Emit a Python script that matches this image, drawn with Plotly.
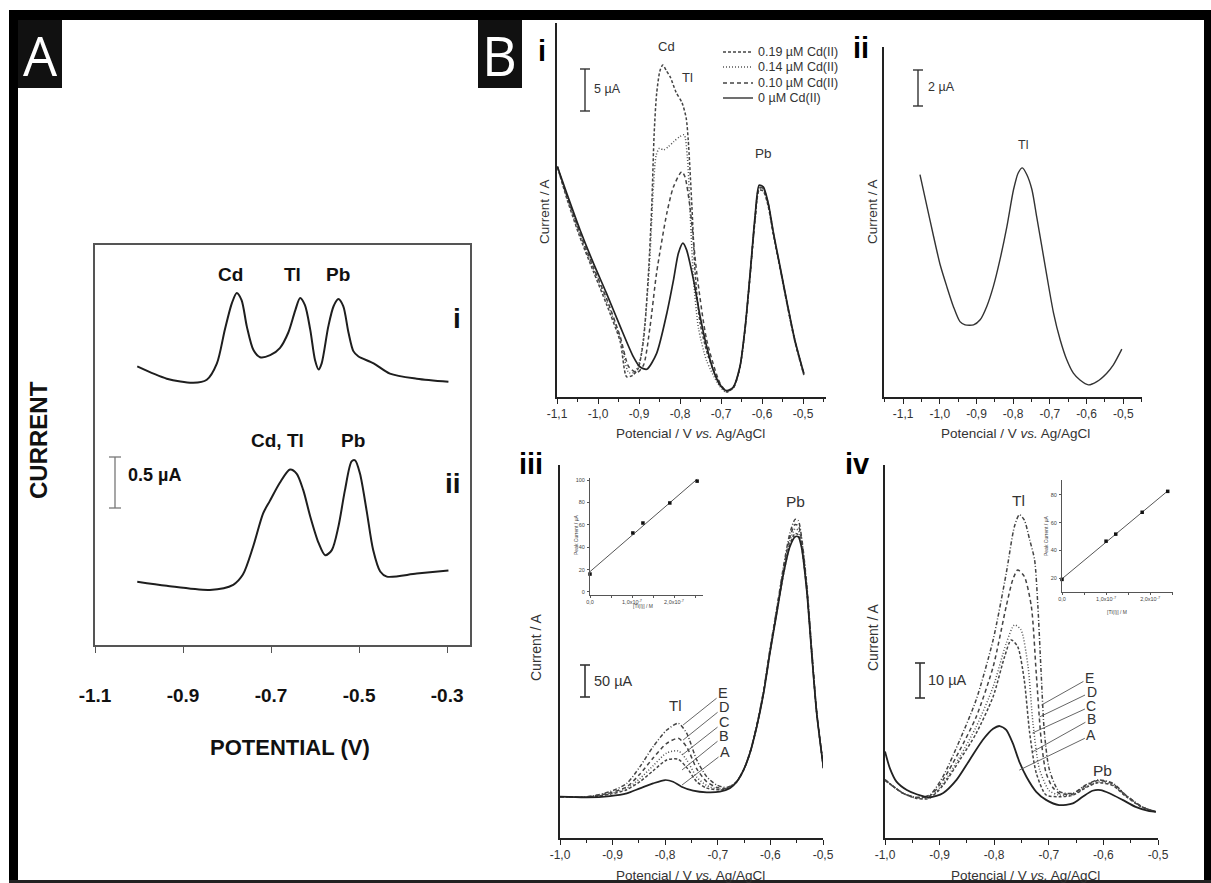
import numpy as np
import plotly.graph_objects as go

W, H = 1211, 883
SANS = "Liberation Sans, Arial, sans-serif"

# ---------------- Panel A (µA, offset scale) ----------------
a_pot_i = [-1.004,-0.937,-0.877,-0.846,-0.823,-0.805,-0.789,-0.778,-0.767,-0.755,-0.740,-0.725,-0.702,-0.680,-0.661,-0.645,-0.634,-0.623,-0.611,-0.600,-0.592,-0.585,-0.570,-0.558,-0.547,-0.536,-0.524,-0.513,-0.502,-0.467,-0.430,-0.369,-0.297]
a_cur_i = [2.73,2.61,2.57,2.60,2.76,3.09,3.35,3.45,3.38,3.12,2.89,2.82,2.84,2.91,3.06,3.28,3.40,3.33,3.09,2.79,2.70,2.76,3.12,3.32,3.39,3.32,3.06,2.88,2.83,2.76,2.66,2.61,2.58]
a_pot_ii = [-1.004,-0.937,-0.839,-0.786,-0.764,-0.741,-0.718,-0.703,-0.680,-0.657,-0.642,-0.627,-0.611,-0.592,-0.577,-0.562,-0.547,-0.532,-0.517,-0.509,-0.498,-0.483,-0.468,-0.452,-0.437,-0.369,-0.297]
a_cur_ii = [0.62,0.58,0.54,0.59,0.69,0.96,1.29,1.41,1.59,1.72,1.68,1.52,1.26,1.00,0.88,0.93,1.16,1.52,1.80,1.81,1.68,1.32,0.93,0.72,0.67,0.70,0.73]
a_ticks = [-1.1, -0.9, -0.7, -0.5, -0.3]
a_ticklabels = ["-1.1", "-0.9", "-0.7", "-0.5", "-0.3"]

# ---------------- Panel B-i (µA) ----------------
bi_pot_0 = [-1.099,-1.076,-1.044,-1.011,-0.979,-0.946,-0.914,-0.898,-0.881,-0.857,-0.832,-0.816,-0.804,-0.793,-0.784,-0.767,-0.751,-0.735,-0.719,-0.702,-0.686,-0.670,-0.654,-0.641,-0.629,-0.617,-0.607,-0.597,-0.585,-0.572,-0.556,-0.540,-0.520,-0.498]
bi_cur_0 = [27.4,24.2,19.9,15.9,12.3,8.4,4.8,3.6,3.3,5.2,10.0,13.9,17.1,18.3,17.5,13.9,9.6,6.0,3.2,1.4,0.75,1.2,3.6,8.4,14.7,21.5,25.2,25.0,23.1,19.5,15.5,11.5,6.8,2.8]
bi_pot_019 = [-1.099,-1.076,-1.044,-1.011,-0.979,-0.946,-0.930,-0.915,-0.902,-0.889,-0.877,-0.869,-0.863,-0.857,-0.849,-0.842,-0.833,-0.824,-0.810,-0.795,-0.785,-0.780,-0.771,-0.763,-0.751,-0.731,-0.702,-0.686,-0.670,-0.654,-0.641,-0.629,-0.617,-0.607,-0.597,-0.585,-0.572,-0.556,-0.540,-0.520,-0.498]
bi_cur_019 = [27.4,23.6,19.0,14.9,11.0,6.6,2.4,2.6,3.4,6.8,14.7,22.7,31.4,36.1,38.8,39.5,38.8,38.1,36.3,35.0,33.2,30.6,22.7,14.7,8.8,4.8,1.5,0.6,1.1,3.5,8.2,14.5,21.0,24.6,24.5,22.7,19.2,15.3,11.3,6.6,2.6]
bi_pot_014 = [-1.099,-1.076,-1.044,-1.011,-0.979,-0.946,-0.925,-0.910,-0.897,-0.884,-0.873,-0.866,-0.858,-0.850,-0.840,-0.828,-0.815,-0.800,-0.790,-0.782,-0.775,-0.767,-0.755,-0.735,-0.705,-0.688,-0.670,-0.654,-0.641,-0.629,-0.617,-0.607,-0.597,-0.585,-0.572,-0.556,-0.540,-0.520,-0.498]
bi_cur_014 = [27.4,23.8,19.3,15.2,11.4,7.0,2.9,3.0,4.5,9.5,17.0,24.0,28.8,29.6,29.4,29.8,30.4,31.0,31.2,28.5,21.5,14.0,8.2,4.3,1.4,0.6,1.1,3.5,8.3,14.6,21.2,24.8,24.7,22.9,19.3,15.4,11.4,6.7,2.7]
bi_pot_010 = [-1.099,-1.076,-1.044,-1.011,-0.979,-0.946,-0.925,-0.905,-0.889,-0.873,-0.857,-0.832,-0.816,-0.796,-0.788,-0.776,-0.759,-0.735,-0.702,-0.686,-0.670,-0.654,-0.641,-0.629,-0.617,-0.607,-0.597,-0.585,-0.572,-0.556,-0.540,-0.520,-0.498]
bi_cur_010 = [27.4,23.9,19.5,15.4,11.7,7.2,3.6,2.9,3.8,8.4,14.8,21.9,25.0,26.8,26.2,22.7,14.7,6.8,1.6,0.7,1.1,3.5,8.3,14.6,21.3,24.9,24.8,23.0,19.4,15.4,11.4,6.7,2.7]

# ---------------- Panel B-ii (µA) ----------------
bii_pot = [-1.054,-1.035,-1.017,-0.999,-0.981,-0.963,-0.945,-0.931,-0.908,-0.890,-0.872,-0.854,-0.836,-0.817,-0.799,-0.786,-0.775,-0.763,-0.749,-0.736,-0.722,-0.708,-0.690,-0.672,-0.654,-0.636,-0.618,-0.595,-0.572,-0.545,-0.527,-0.504]
bii_cur = [12.33,10.57,8.91,7.33,6.13,5.02,4.18,4.0,4.0,4.28,5.02,6.13,7.61,9.46,11.5,12.43,12.7,12.33,11.5,10.0,8.35,6.68,4.65,3.17,2.06,1.32,0.94,0.67,0.85,1.32,1.78,2.65]

# ---------------- Panel B-iii (µA) ----------------
biii_pot_A = [-1.000,-0.949,-0.905,-0.873,-0.848,-0.823,-0.800,-0.785,-0.769,-0.747,-0.721,-0.696,-0.677,-0.664,-0.651,-0.639,-0.626,-0.613,-0.601,-0.588,-0.575,-0.563,-0.553,-0.547,-0.541,-0.531,-0.521,-0.512,-0.499]
biii_cur_A = [64.6,63.5,65.6,69.8,77.6,85.4,90.6,88.0,80.2,74.0,71.4,72.4,77.6,88.0,106.3,132.3,173.9,226.0,288.5,351.0,413.5,455.2,470.8,470.8,455.2,387.5,283.3,194.8,108.9]
biii_pot = [-1.000,-0.949,-0.905,-0.873,-0.848,-0.823,-0.797,-0.775,-0.759,-0.740,-0.721,-0.702,-0.683,-0.664,-0.651,-0.639,-0.626,-0.613,-0.601,-0.588,-0.575,-0.563,-0.553,-0.547,-0.541,-0.531,-0.521,-0.512,-0.499]
biii_cur_B = [64.6,64.0,68.5,75.5,88.0,105.0,122.0,123.0,110.0,88.0,78.0,75.5,76.5,88.0,106.3,133.0,174.0,227.0,289.0,352.0,413.0,458.0,476.0,474.0,457.0,389.0,285.0,195.5,109.0]
biii_cur_C = [64.6,64.2,69.5,77.5,93.0,113.0,133.0,136.0,122.0,95.0,82.0,77.0,77.0,88.0,106.3,133.0,174.0,228.0,290.0,354.0,417.0,464.0,483.0,481.0,462.0,391.0,286.0,196.0,109.0]
biii_cur_D = [64.6,64.3,70.5,80.0,100.0,125.0,148.0,155.8,142.0,108.0,88.0,79.0,77.5,88.0,106.3,133.0,175.0,229.0,292.0,356.0,421.0,470.0,490.0,488.0,467.0,394.0,288.0,197.0,109.5]
biii_cur_E = [64.6,64.5,72.4,85.4,111.5,142.7,168.8,179.2,163.5,121.9,95.8,82.8,79.0,88.0,106.3,133.0,176.0,230.0,294.0,358.0,425.0,476.0,498.0,496.0,472.0,398.0,290.0,198.0,110.0]

# ---------------- Panel B-iv (µA) ----------------
biv_pot_A = [-1.000,-0.991,-0.979,-0.960,-0.942,-0.918,-0.894,-0.869,-0.845,-0.821,-0.802,-0.790,-0.778,-0.766,-0.754,-0.741,-0.723,-0.705,-0.681,-0.656,-0.638,-0.620,-0.605,-0.589,-0.565,-0.541,-0.516,-0.504]
biv_cur_A = [24.7,19.9,16.1,13.7,12.5,11.6,12.8,16.6,22.3,28.0,31.2,32.0,30.9,27.1,21.8,17.5,13.2,10.9,9.4,9.9,11.8,13.5,13.7,12.8,10.9,8.9,7.7,7.5]
biv_pot_B = [-1.000,-0.967,-0.942,-0.918,-0.894,-0.863,-0.833,-0.802,-0.781,-0.769,-0.757,-0.745,-0.735,-0.723,-0.705,-0.681,-0.656,-0.632,-0.610,-0.583,-0.559,-0.529,-0.504]
biv_cur_B = [16.6,12.8,11.3,11.4,15.0,22.3,29.9,40.4,51.8,56.6,54.7,45.2,30.0,18.6,12.3,11.8,12.2,14.4,15.8,15.0,11.9,8.8,7.5]
biv_pot_C = [-1.000,-0.967,-0.942,-0.918,-0.894,-0.863,-0.833,-0.802,-0.778,-0.763,-0.751,-0.738,-0.729,-0.717,-0.699,-0.681,-0.656,-0.632,-0.610,-0.583,-0.559,-0.529,-0.504]
biv_cur_C = [16.6,12.8,11.4,11.6,15.5,23.2,31.8,43.2,55.6,60.9,59.5,49.0,32.8,19.6,13.5,12.3,12.4,14.6,16.0,15.2,12.0,8.8,7.5]
biv_pot_D = [-1.000,-0.967,-0.942,-0.918,-0.894,-0.863,-0.833,-0.802,-0.778,-0.766,-0.757,-0.745,-0.732,-0.723,-0.714,-0.705,-0.693,-0.681,-0.656,-0.632,-0.610,-0.583,-0.559,-0.529,-0.504]
biv_cur_D = [16.6,12.8,11.6,12.0,16.5,25.1,34.6,48.9,66.2,73.8,76.6,74.8,66.2,47.1,28.1,18.6,14.5,12.8,12.6,15.0,16.4,15.5,12.2,8.9,7.5]
biv_pot_E = [-1.000,-0.967,-0.942,-0.918,-0.894,-0.863,-0.833,-0.802,-0.778,-0.763,-0.754,-0.745,-0.735,-0.726,-0.720,-0.714,-0.708,-0.699,-0.681,-0.656,-0.632,-0.610,-0.583,-0.559,-0.529,-0.504]
biv_cur_E = [16.6,12.8,11.6,12.3,17.5,28.0,39.5,56.6,75.6,89.0,92.4,90.9,85.2,79.5,66.2,47.1,30.0,19.6,13.3,12.8,15.2,16.6,15.7,12.3,8.9,7.5]

# ---------------- insets (calibration) ----------------
iii_conc = [0.0, 1.02e-7, 1.26e-7, 1.90e-7, 2.55e-7]
iii_peak = [16.0, 52.7, 61.6, 79.5, 99.0]
iv_conc = [0.0, 1.00e-7, 1.22e-7, 1.82e-7, 2.40e-7]
iv_peak = [19.0, 46.6, 51.7, 67.5, 82.6]

b_ticks_11 = [-1.1, -1.0, -0.9, -0.8, -0.7, -0.6, -0.5]
b_ticklabels_11 = ["-1,1", "-1,0", "-0,9", "-0,8", "-0,7", "-0,6", "-0,5"]
b_ticks_10 = [-1.0, -0.9, -0.8, -0.7, -0.6, -0.5]
b_ticklabels_10 = ["-1,0", "-0,9", "-0,8", "-0,7", "-0,6", "-0,5"]
inset_xticks = [0.0, 1e-7, 2e-7]
inset_xlabels = ["0,0", "1,0x10<sup>-7</sup>", "2,0x10<sup>-7</sup>"]

# ---------------- helpers ----------------
def X(px):
    return px / W

def Y(py):
    return 1 - py / H

def xdom(a, b):
    return [a / W, b / W]

def ydom(top, bottom):
    return [1 - bottom / H, 1 - top / H]

fig = go.Figure()

def curve(x, y, ax, dash="solid", width=1.5, color="#2b2b2b", smooth=0.7):
    fig.add_trace(go.Scatter(
        x=x, y=y, mode="lines", xaxis="x" + ax, yaxis="y" + ax,
        line=dict(color=color, width=width, dash=dash, shape="spline", smoothing=smooth),
        showlegend=False, hoverinfo="skip"))

DASH1 = "3px,2px"
DOT = "1px,2px"
DASH2 = "4px,3px"
DASHDOT = "4px,2px,1px,2px"

# Panel A
curve(a_pot_i, a_cur_i, "", width=2.0, color="#1e1e1e", smooth=0.8)
curve(a_pot_ii, a_cur_ii, "", width=2.0, color="#1e1e1e", smooth=0.8)

# B-i
curve(bi_pot_019, bi_cur_019, "2", dash=DASH1, color="#444")
curve(bi_pot_014, bi_cur_014, "2", dash=DOT, color="#555")
curve(bi_pot_010, bi_cur_010, "2", dash=DASH2, color="#444")
curve(bi_pot_0, bi_cur_0, "2", color="#222", width=1.7)

# B-ii
curve(bii_pot, bii_cur, "3", color="#333", width=1.4)

# B-iii
curve(biii_pot, biii_cur_E, "4", dash=DASHDOT, color="#444")
curve(biii_pot, biii_cur_D, "4", dash=DASH2, color="#444")
curve(biii_pot, biii_cur_C, "4", dash=DOT, color="#555")
curve(biii_pot, biii_cur_B, "4", dash=DASH1, color="#444")
curve(biii_pot_A, biii_cur_A, "4", color="#222", width=1.7)

# B-iv
curve(biv_pot_E, biv_cur_E, "5", dash=DASHDOT, color="#444")
curve(biv_pot_D, biv_cur_D, "5", dash=DASH2, color="#444")
curve(biv_pot_C, biv_cur_C, "5", dash=DOT, color="#555")
curve(biv_pot_B, biv_cur_B, "5", dash=DASH1, color="#444")
curve(biv_pot_A, biv_cur_A, "5", color="#222", width=1.8)

# Insets: points + least-squares line
for conc, peak, ax in [(iii_conc, iii_peak, "6"), (iv_conc, iv_peak, "7")]:
    slope, icpt = np.polyfit(conc, peak, 1)
    xs = [0.0, max(conc)]
    fig.add_trace(go.Scatter(x=xs, y=[icpt + slope * v for v in xs], mode="lines",
                             xaxis="x" + ax, yaxis="y" + ax,
                             line=dict(color="#555", width=1), showlegend=False, hoverinfo="skip"))
    fig.add_trace(go.Scatter(x=conc, y=peak, mode="markers", xaxis="x" + ax, yaxis="y" + ax,
                             marker=dict(color="#111", size=3.5, symbol="square"),
                             showlegend=False, hoverinfo="skip", cliponaxis=False))

# ---------------- axes ----------------
def b_xaxis(dom, rng, ticks, labels, minor, anchor):
    return dict(domain=dom, range=rng, anchor=anchor, tickmode="array", tickvals=ticks,
                ticktext=labels, ticks="outside", ticklen=5, tickwidth=1.3, tickcolor="#222",
                showline=True, linecolor="#222", linewidth=2, showgrid=False, zeroline=False,
                automargin=False,
                tickfont=dict(family=SANS, size=12, color="#333"),
                minor=dict(tickmode="array", tickvals=minor, ticks="outside", ticklen=3,
                           tickwidth=1.2, tickcolor="#222", showgrid=False))

def b_yaxis(dom, rng, anchor):
    return dict(domain=dom, range=rng, anchor=anchor, showline=True, linecolor="#222",
                linewidth=2, showticklabels=False, ticks="", showgrid=False, zeroline=False,
                automargin=False)

minor_11 = [-1.05, -0.95, -0.85, -0.75, -0.65, -0.55, -0.45]
minor_115 = [-1.15] + minor_11
minor_10 = [-0.95, -0.85, -0.75, -0.65, -0.55]

layout = dict(
    width=W, height=H, margin=dict(l=0, r=0, t=0, b=0, pad=0, autoexpand=False),
    paper_bgcolor="white", plot_bgcolor="rgba(0,0,0,0)", showlegend=False,
    font=dict(family=SANS, color="#222"),
    xaxis=dict(domain=xdom(95, 470), range=[-1.1, -0.248], anchor="y", tickmode="array",
               tickvals=a_ticks, ticktext=["<b>%s</b>" % t for t in a_ticklabels],
               ticks="outside", ticklen=6, tickcolor="#555", showline=True, mirror=True,
               linecolor="#555", linewidth=1.5, showgrid=False, zeroline=False, automargin=False,
               ticklabelstandoff=26, tickfont=dict(family=SANS, size=19, color="#111")),
    yaxis=dict(domain=ydom(245, 645), range=[0, 3.92], anchor="x", showline=True, mirror=True,
               linecolor="#555", linewidth=1.5, showticklabels=False, ticks="", automargin=False,
               showgrid=False, zeroline=False),
    xaxis2=b_xaxis(xdom(557, 826), [-1.1, -0.444], b_ticks_11, b_ticklabels_11, minor_11, "y2"),
    yaxis2=b_yaxis(ydom(23, 397), [0, 44.5], "x2"),
    xaxis3=b_xaxis(xdom(884, 1142), [-1.152, -0.449], b_ticks_11, b_ticklabels_11, minor_115, "y3"),
    yaxis3=b_yaxis(ydom(47, 397), [0, 19.4], "x3"),
    xaxis4=b_xaxis(xdom(560, 823), [-1.0, -0.5], b_ticks_10, b_ticklabels_10, minor_10, "y4"),
    yaxis4=b_yaxis(ydom(465, 838), [0, 583], "x4"),
    xaxis5=b_xaxis(xdom(885, 1158), [-1.0, -0.5], b_ticks_10, b_ticklabels_10, minor_10, "y5"),
    yaxis5=b_yaxis(ydom(465, 838), [0, 106.6], "x5"),
)

def inset_axes(xd, yd, xr, yr, yt, ax):
    xa = dict(domain=xd, range=xr, anchor="y" + ax, tickmode="array", tickvals=inset_xticks,
              ticktext=inset_xlabels, ticks="outside", ticklen=1.5, tickcolor="#555",
              showline=True, linecolor="#555", linewidth=1, showgrid=False, zeroline=False,
              automargin=False,
              tickfont=dict(family=SANS, size=5.5, color="#444"), ticklabelstandoff=0,
              minor=dict(tickmode="array", tickvals=[0.5e-7, 1.5e-7, 2.5e-7], ticks="outside",
                         ticklen=1.5, tickcolor="#555", showgrid=False))
    ya = dict(domain=yd, range=yr, anchor="x" + ax, tickmode="array", tickvals=yt,
              ticks="outside", ticklen=2, tickcolor="#555", showline=True, linecolor="#555",
              linewidth=1, showgrid=False, zeroline=False, ticklabelstandoff=1, automargin=False,
              tickfont=dict(family=SANS, size=5.5, color="#444"))
    return xa, ya

layout["xaxis6"], layout["yaxis6"] = inset_axes(xdom(590, 703), ydom(478, 595), [0, 2.69e-7],
                                                [-2.7, 101.8], [0, 20, 40, 60, 80, 100], "6")
layout["xaxis7"], layout["yaxis7"] = inset_axes(xdom(1062, 1173), ydom(480, 592), [0, 2.52e-7],
                                                [9.9, 90.8], [20, 40, 60, 80], "7")
fig.update_layout(**layout)

# ---------------- shapes (frame, label boxes, scale bars, legend samples) ----------------
shapes = []

def rect(x0, y0, x1, y1, color="black"):
    shapes.append(dict(type="rect", xref="paper", yref="paper", x0=X(x0), x1=X(x1),
                       y0=Y(y1), y1=Y(y0), fillcolor=color, line=dict(width=0), layer="above"))

def seg(x0, y0, x1, y1, color="#222", width=1.3, dash="solid"):
    shapes.append(dict(type="line", xref="paper", yref="paper", x0=X(x0), x1=X(x1),
                       y0=Y(y0), y1=Y(y1), line=dict(color=color, width=width, dash=dash),
                       layer="above"))

# outer frame
rect(9, 10, 1211, 20)
rect(9, 10, 18, 883)
rect(1204, 10, 1211, 883)
rect(9, 880, 1211, 883, "#222")
# letter boxes
rect(18, 20, 62, 88, "#111")
rect(478, 20, 522, 88, "#111")

def scalebar(x, y0, y1, color="#333", cap=5, width=1.4):
    seg(x, y0, x, y1, color, width)
    seg(x - cap, y0, x + cap, y0, color, width)
    seg(x - cap, y1, x + cap, y1, color, width)

scalebar(115, 457, 508, "#777", 6, 1.3)
scalebar(585, 69, 111)
scalebar(918, 70, 106)
scalebar(585, 665, 697, "#333", 5, 1.6)
scalebar(920, 663, 698, "#333", 5, 1.6)

legend_rows = [("0.19 µM Cd(II)", DASH1, "#444"), ("0.14 µM Cd(II)", DOT, "#555"),
               ("0.10 µM Cd(II)", DASH2, "#444"), ("0 µM Cd(II)", "solid", "#222")]
legend_y = [52, 67, 83, 98]
for (lab, dsh, col), ly in zip(legend_rows, legend_y):
    seg(723, ly, 753, ly, col, 1.3, dsh)

fig.update_layout(shapes=shapes)

# ---------------- text ----------------
anns = []

def txt(t, px, py, size=13, color="#333", xanchor="center", family=SANS, angle=0):
    anns.append(dict(text=t, x=X(px), y=Y(py), xref="paper", yref="paper", showarrow=False,
                     xanchor=xanchor, yanchor="middle", textangle=angle,
                     font=dict(family=family, size=size, color=color)))

# big panel letters
txt("A", 40, 55, 54, "white", family="Open Sans, sans-serif")
txt("B", 500, 55, 54, "white", family="Open Sans, sans-serif")

# panel A
txt("<b>CURRENT</b>", 38, 440, 24, "#111", angle=-90)
txt("<b>POTENTIAL (V)</b>", 290, 747, 22, "#111")
txt("<b>Cd</b>", 230, 274, 19, "#111")
txt("<b>Tl</b>", 292, 274, 19, "#111")
txt("<b>Pb</b>", 338, 274, 19, "#111")
txt("<b>i</b>", 457, 318, 28, "#111")
txt("<b>Cd, Tl</b>", 277, 441, 19, "#111")
txt("<b>Pb</b>", 353, 441, 19, "#111")
txt("<b>ii</b>", 453, 483, 28, "#111")
txt("<b>0.5 µA</b>", 126, 475, 18, "#111", xanchor="left")

# roman numerals in B
txt("<b>i</b>", 542, 51, 29, "#000")
txt("<b>ii</b>", 861, 48, 29, "#000")
txt("<b>iii</b>", 531, 464, 29, "#000")
txt("<b>iv</b>", 857, 464, 29, "#000")

# axis titles
xt = "Potencial / V <i>vs.</i> Ag/AgCl"
txt(xt, 690, 433, 13.5)
txt(xt, 1015, 433, 13.5)
txt(xt, 691, 875, 13.5)
txt(xt, 1025, 875, 13.5)
txt("Current / A", 545, 212, 13.5, angle=-90)
txt("Current / A", 873, 212, 13.5, angle=-90)
txt("Current / A", 536, 647, 14, angle=-90)
txt("Current / A", 873, 637, 14, angle=-90)

# scale bar labels
txt("5 µA", 592, 89, 12.5, xanchor="left")
txt("2 µA", 926, 87, 12.5, xanchor="left")
txt("50 µA", 592, 681, 14.5, xanchor="left")
txt("10 µA", 926, 680, 14.5, xanchor="left")

# legend text
for (lab, dsh, col), ly in zip(legend_rows, legend_y):
    txt(lab, 756, ly, 12.5, xanchor="left")

# peak labels
txt("Cd", 666, 46, 13)
txt("Tl", 687, 77, 13)
txt("Pb", 763, 153, 13.5)
txt("Tl", 1023, 145, 12.5)
txt("Tl", 675, 705, 15)
txt("Pb", 795, 502, 15.5)
txt("Tl", 1018, 500, 15.5)
txt("Pb", 1102, 770, 15.5)

# inset axis titles
txt("Peak Current / µA", 576, 535, 5, "#444", angle=-90)
txt("[Tl(I)] / M", 643, 606, 5, "#444")
txt("Peak Current / µA", 1046, 536, 5, "#444", angle=-90)
txt("[Tl(I)] / M", 1117, 612, 5, "#444")

# E..A leader labels (point at curves, in data coordinates)
iii_tips = [("E", -0.766, 176.6, 40, -32), ("D", -0.766, 153.1, 41, -33),
            ("C", -0.768, 129.7, 42, -33), ("B", -0.768, 106.3, 42, -34),
            ("A", -0.768, 82.8, 43, -33)]
for lab, tx, ty, dx, dy in iii_tips:
    anns.append(dict(text=lab, x=tx, y=ty, xref="x4", yref="y4", ax=dx, ay=dy,
                     showarrow=True, arrowhead=0, arrowwidth=0.9, arrowcolor="#555",
                     standoff=0, font=dict(family=SANS, size=14.5, color="#333")))
iv_tips = [("E", -0.7135, 38.0, 48, -27), ("D", -0.717, 34.6, 52, -25),
           ("C", -0.730, 30.0, 59, -27), ("B", -0.730, 24.6, 59, -33),
           ("A", -0.754, 19.4, 72, -35)]
for lab, tx, ty, dx, dy in iv_tips:
    anns.append(dict(text=lab, x=tx, y=ty, xref="x5", yref="y5", ax=dx, ay=dy,
                     showarrow=True, arrowhead=0, arrowwidth=0.9, arrowcolor="#555",
                     standoff=0, font=dict(family=SANS, size=14, color="#333")))

fig.update_layout(annotations=anns)

post = ("document.documentElement.style.margin='0';document.body.style.margin='0';"
        "document.documentElement.style.overflow='hidden';document.body.style.overflow='hidden';"
        "var d=document.getElementById('{plot_id}');"
        "d.style.position='fixed';d.style.left='0px';d.style.top='0px';")
fig.write_html("out.html", config={"displayModeBar": False, "responsive": False},
               post_script=post)
